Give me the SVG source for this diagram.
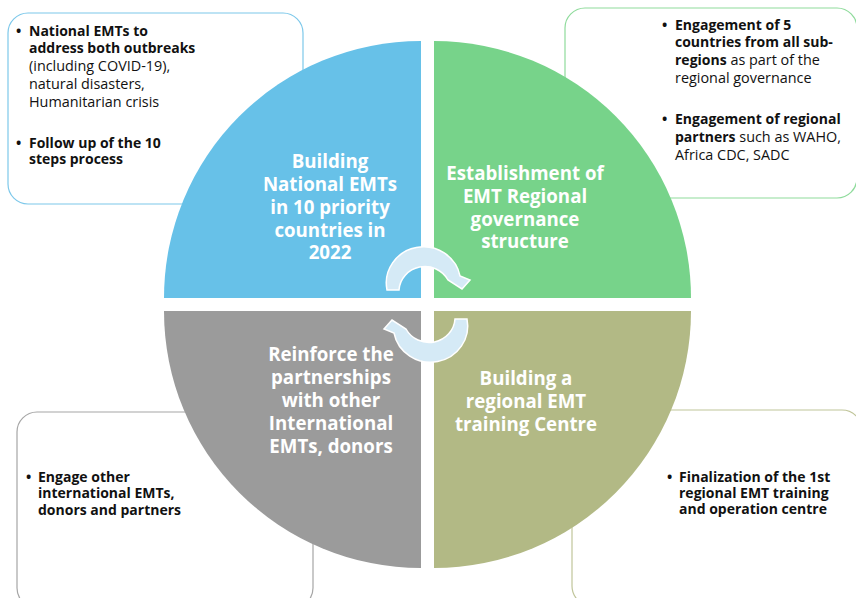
<svg xmlns="http://www.w3.org/2000/svg" width="856" height="598" viewBox="0 0 856 598">
<style>
.box{fill:#fff;stroke-width:1.2}
.q{font-family:"Open Sans","Noto Sans",sans-serif;font-weight:bold;font-size:18.7px;fill:#fff;text-anchor:middle}
.t{font-family:"Open Sans","Noto Sans",sans-serif;font-size:14.4px;fill:#111}
.b{font-weight:bold;font-size:14px}
.arr{fill:#D5EAF6;stroke:#fff;stroke-width:1.5}
</style>
<rect width="856" height="598" fill="#fff"/>
<g id="box-tl">
<rect class="box" x="8" y="13" width="295" height="191" rx="20" stroke="#7DC8EA"/>
<text class="t b" x="16" y="36">•</text>
<text class="t b" x="29" y="36">National EMTs to</text>
<text class="t b" x="29" y="53">address both outbreaks</text>
<text class="t" x="29" y="71">(including COVID-19),</text>
<text class="t" x="29" y="89">natural disasters,</text>
<text class="t" x="29" y="107">Humanitarian crisis</text>
<text class="t b" x="16" y="148">•</text>
<text class="t b" x="29" y="148">Follow up of the 10</text>
<text class="t b" x="29" y="164">steps process</text>
</g>
<g id="box-tr">
<rect class="box" x="565" y="8" width="292" height="190" rx="20" stroke="#8FDB9C"/>
<text class="t b" x="662" y="30">•</text>
<text class="t b" x="675" y="30">Engagement of 5</text>
<text class="t b" x="675" y="47">countries from all sub-</text>
<text class="t" x="675" y="65"><tspan class="b">regions</tspan> as part of the</text>
<text class="t" x="675" y="83">regional governance</text>
<text class="t b" x="662" y="124">•</text>
<text class="t b" x="675" y="124">Engagement of regional</text>
<text class="t" x="675" y="142"><tspan class="b">partners</tspan> such as WAHO,</text>
<text class="t" x="675" y="160">Africa CDC, SADC</text>
</g>
<g id="box-bl">
<rect class="box" x="17" y="412" width="296" height="196" rx="20" stroke="#A6A6A6"/>
<text class="t b" x="26" y="482">•</text>
<text class="t b" x="38" y="482">Engage other</text>
<text class="t b" x="38" y="498">international EMTs,</text>
<text class="t b" x="38" y="515">donors and partners</text>
</g>
<g id="box-br">
<rect class="box" x="572" y="410" width="290" height="196" rx="20" stroke="#C0C59A"/>
<text class="t b" x="667" y="482">•</text>
<text class="t b" x="679" y="482">Finalization of the 1st</text>
<text class="t b" x="679" y="498">regional EMT training</text>
<text class="t b" x="679" y="514">and operation centre</text>
</g>
<g id="q-blue">
<path d="M421,298 L164,298 A257,257 0 0 1 421,41 Z" fill="#67C1E8"/>
<text class="q" x="330" y="168">Building</text>
<text class="q" x="330" y="191">National EMTs</text>
<text class="q" x="330" y="214">in 10 priority</text>
<text class="q" x="330" y="237">countries in</text>
<text class="q" x="330" y="259">2022</text>
</g>
<g id="q-green">
<path d="M434,298 L434,41 A257,257 0 0 1 691,298 Z" fill="#77D38A"/>
<text class="q" x="525" y="180">Establishment of</text>
<text class="q" x="525" y="203">EMT Regional</text>
<text class="q" x="525" y="226">governance</text>
<text class="q" x="525" y="248">structure</text>
</g>
<g id="q-olive">
<path d="M434,311 L691,311 A257,257 0 0 1 434,568 Z" fill="#B2B985"/>
<text class="q" x="526" y="385">Building a</text>
<text class="q" x="526" y="408">regional EMT</text>
<text class="q" x="526" y="431">training Centre</text>
</g>
<g id="q-gray">
<path d="M421,311 L421,568 A257,257 0 0 1 164,311 Z" fill="#9B9B9B"/>
<text class="q" x="331" y="361">Reinforce the</text>
<text class="q" x="331" y="384">partnerships</text>
<text class="q" x="331" y="407">with other</text>
<text class="q" x="331" y="430">International</text>
<text class="q" x="331" y="453">EMTs, donors</text>
</g>
<g id="connectors">
<path class="arr" d="M387,290 A37,36 0 0 1 460,276 L470,280 L462,289 L448,280 A26,25 0 0 0 399,290 Z"/>
<path class="arr" transform="rotate(180 427 304.5)" d="M387,290 A37,36 0 0 1 460,276 L470,280 L462,289 L448,280 A26,25 0 0 0 399,290 Z"/>
</g>
</svg>
